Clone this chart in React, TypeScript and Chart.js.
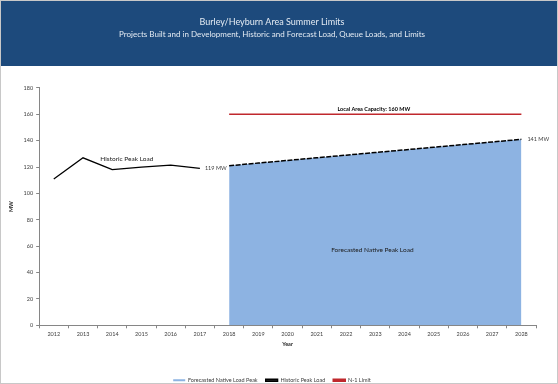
import React, { useEffect, useRef } from "react";
import { Chart, registerables } from "chart.js";

Chart.register(...registerables);

const years = ["2012","2013","2014","2015","2016","2017","2018","2019","2020","2021","2022","2023","2024","2025","2026","2027","2028"];
const historicLoad = [111, 127, 118, 120, 121.5, 119, null, null, null, null, null, null, null, null, null, null, null];
const forecastLoad = [null, null, null, null, null, null, 121, 123, 125, 127, 129, 131, 133, 135, 137, 139, 141];
const n1Limit = [null, null, null, null, null, null, 160, 160, 160, 160, 160, 160, 160, 160, 160, 160, 160];
const titleText = "Burley/Heyburn Area Summer Limits";
const subtitleText = "Projects Built and in Development, Historic and Forecast Load, Queue Loads, and Limits";
const capacityLabel = "Local Area Capacity: 160 MW";
const forecastAreaLabel = "Forecasted Native Peak Load";
const historicLabel = "Historic Peak Load";

const FONT = "Lato, 'Open Sans', sans-serif";
const HEADER_BLUE = "#1d4a7c";
const AREA_BLUE = "#8db3e2";
const RED = "#c0282d";

const headerPlugin = {
  id: "headerBand",
  beforeDraw(chart: any) {
    const ctx = chart.ctx;
    ctx.save();
    ctx.fillStyle = "#ffffff";
    ctx.fillRect(0, 0, chart.width, chart.height);
    ctx.fillStyle = HEADER_BLUE;
    ctx.fillRect(0, 1, chart.width, 65);
    ctx.strokeStyle = "#c8c8c8";
    ctx.lineWidth = 1;
    ctx.strokeRect(0.5, 0.5, chart.width - 1, chart.height - 1);
    ctx.restore();
  },
};

const annotationPlugin = {
  id: "annotations",
  afterDatasetsDraw(chart: any) {
    const ctx = chart.ctx;
    const x = chart.scales.x;
    const y = chart.scales.y;
    ctx.save();
    ctx.textBaseline = "middle";
    ctx.font = `bold 5.5px ${FONT}`;
    ctx.fillStyle = "#000";
    ctx.textAlign = "center";
    ctx.fillText(capacityLabel, x.getPixelForValue(10.95), y.getPixelForValue((n1Limit[6] as number) + 4));
    ctx.font = `6.5px ${FONT}`;
    ctx.fillStyle = "#1a1a1a";
    ctx.fillText(forecastAreaLabel, x.getPixelForValue(10.9), y.getPixelForValue(57.5));
    ctx.fillText(historicLabel, x.getPixelForValue(2.5), y.getPixelForValue(126.3));
    ctx.font = `5.5px ${FONT}`;
    ctx.fillStyle = "#404040";
    ctx.textAlign = "left";
    ctx.fillText(`${Math.round(historicLoad[5] as number)} MW`, x.getPixelForValue(5) + 5, y.getPixelForValue(historicLoad[5] as number));
    ctx.fillText(`${forecastLoad[16]} MW`, x.getPixelForValue(16) + 6, y.getPixelForValue(forecastLoad[16] as number));
    ctx.restore();
  },
};

export default function App() {
  const ref = useRef<HTMLCanvasElement | null>(null);
  useEffect(() => {
    document.body.style.margin = "0";
    const canvas = ref.current;
    if (!canvas) return;
    const chart = new Chart(canvas, {
      type: "line",
      data: {
        labels: years,
        datasets: [
          {
            label: "Forecasted Native Load Peak",
            data: forecastLoad,
            backgroundColor: AREA_BLUE,
            borderColor: AREA_BLUE,
            borderWidth: 0,
            fill: "origin",
            pointRadius: 0,
            order: 3,
          },
          {
            label: "forecastTop",
            data: forecastLoad,
            borderColor: "#000",
            borderWidth: 1.5,
            borderDash: [5, 1.5],
            fill: false,
            pointRadius: 0,
            order: 2,
          },
          {
            label: "Historic Peak Load",
            data: historicLoad,
            borderColor: "#000",
            backgroundColor: "#333",
            borderWidth: 1.3,
            fill: false,
            pointRadius: 0,
            order: 1,
          },
          {
            label: "N-1 Limit",
            data: n1Limit,
            borderColor: RED,
            backgroundColor: RED,
            borderWidth: 1.5,
            fill: false,
            pointRadius: 0,
            order: 0,
          },
        ],
      },
      options: {
        animation: false,
        responsive: false,
        maintainAspectRatio: false,
        layout: { padding: { left: 8, right: 22, top: 0, bottom: -9 } },
        plugins: {
          title: {
            display: true,
            text: titleText,
            color: "#e4ebf3",
            font: { family: FONT, size: 9, weight: "normal" },
            padding: { top: 17, bottom: 0 },
          },
          subtitle: {
            display: true,
            text: subtitleText,
            color: "#e4ebf3",
            font: { family: FONT, size: 8, weight: "normal" },
            padding: { top: 1.5, bottom: 49 },
          },
          legend: {
            position: "bottom",
            labels: {
              font: { family: FONT, size: 5.5 },
              color: "#404040",
              boxWidth: 12,
              boxHeight: 2,
              padding: 8,
              sort: (a: any, b: any) => a.datasetIndex - b.datasetIndex,
              filter: (item: any) => item.text !== "forecastTop",
            },
          },
          tooltip: { enabled: false },
        },
        scales: {
          x: {
            offset: true,
            grid: {
              display: true,
              offset: true,
              drawOnChartArea: false,
              drawTicks: true,
              tickLength: 3,
              color: "#868686",
            },
            border: { display: true, color: "#868686" },
            ticks: {
              font: { family: FONT, size: 5.5 },
              color: "#404040",
              padding: 3,
              maxRotation: 0,
              autoSkip: false,
            },
            title: {
              display: true,
              text: "Year",
              font: { family: FONT, size: 5.5, weight: "bold" },
              color: "#262626",
              padding: { top: 0, bottom: 22 },
            },
          },
          y: {
            min: 0,
            max: 180,
            grid: {
              display: true,
              drawOnChartArea: false,
              drawTicks: true,
              tickLength: 3,
              color: "#868686",
            },
            border: { display: true, color: "#868686" },
            ticks: {
              stepSize: 20,
              font: { family: FONT, size: 5.5 },
              color: "#404040",
              padding: 3,
            },
            title: {
              display: true,
              text: "MW",
              font: { family: FONT, size: 5.5, weight: "bold" },
              color: "#262626",
              padding: { top: 0, bottom: 6 },
            },
          },
        },
      },
      plugins: [headerPlugin, annotationPlugin],
    });
    return () => chart.destroy();
  }, []);
  return (
    <div style={{ position: "absolute", left: 0, top: 0, width: 558, height: 384 }}>
      <canvas ref={ref} width={558} height={384} style={{ width: 558, height: 384, display: "block" }} />
    </div>
  );
}
